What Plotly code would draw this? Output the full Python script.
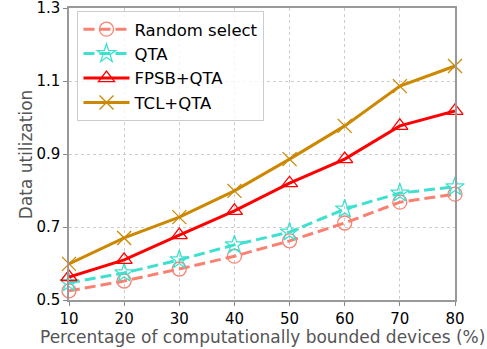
import plotly.graph_objects as go

pct = [10, 20, 30, 40, 50, 60, 70, 80]
random_select = [0.525, 0.552, 0.585, 0.620, 0.662, 0.711, 0.768, 0.790]
qta = [0.547, 0.574, 0.610, 0.651, 0.686, 0.749, 0.793, 0.810]
fpsb_qta = [0.563, 0.610, 0.678, 0.744, 0.820, 0.886, 0.977, 1.018]
tcl_qta = [0.599, 0.670, 0.727, 0.799, 0.886, 0.977, 1.086, 1.141]

y_ticks = [0.5, 0.7, 0.9, 1.1, 1.3]

series = [
    ("Random select", random_select, "#FA8072", "11px,5px", "circle-open"),
    ("QTA", qta, "#40E0D0", "11px,5px", "star-open"),
    ("FPSB+QTA", fpsb_qta, "#FF0000", "solid", "triangle-up-open"),
    ("TCL+QTA", tcl_qta, "#CC8800", "solid", "x-thin-open"),
]

fig = go.Figure()
for name, vals, color, dash, symbol in series:
    fig.add_trace(go.Scatter(
        x=pct, y=vals, name=name, mode="lines+markers",
        line=dict(color=color, width=3, dash=dash),
        marker=dict(symbol=symbol, size=14, color=color,
                    line=dict(color=color, width=1.3)),
        cliponaxis=False,
    ))

tick_font = dict(family="DejaVu Sans", size=15, color="#000000")
title_font = dict(family="DejaVu Sans", size=17, color="#555555")

axis_common = dict(
    tickfont=tick_font, automargin=False, ticklabeloverflow="allow",
    showgrid=True, gridcolor="#cccccc", griddash="dot", gridwidth=1,
    showline=True, linecolor="#999999", linewidth=1.5, mirror=True,
    ticks="outside", ticklen=4, tickcolor="#888888",
    zeroline=False,
)

fig.update_layout(
    width=487, height=349,
    margin=dict(l=69, r=32, t=8, b=49),
    paper_bgcolor="white", plot_bgcolor="white",
    font=dict(family="DejaVu Sans", size=16, color="#000000"),
    showlegend=True,
    legend=dict(
        x=0.022, y=0.99, xanchor="left", yanchor="top",
        bgcolor="rgba(255,255,255,0.8)", bordercolor="#cccccc", borderwidth=1,
        font=dict(family="DejaVu Sans", size=16.5, color="#000000"),
        itemwidth=46, tracegroupgap=0,
    ),
    xaxis=dict(range=[10, 80], tickvals=pct, **axis_common),
    yaxis=dict(range=[0.5, 1.3], tickvals=y_ticks, tickformat=".1f", **axis_common),
    annotations=[
        dict(text="Percentage of computationally bounded devices (%)",
             xref="paper", yref="paper", x=0.5, y=-0.128,
             xanchor="center", yanchor="middle", showarrow=False, font=title_font),
        dict(text="Data utilization", textangle=-90,
             xref="paper", yref="paper", x=-0.111, y=0.5,
             xanchor="center", yanchor="middle", showarrow=False, font=title_font),
    ],
)

fig.write_html("out.html")
